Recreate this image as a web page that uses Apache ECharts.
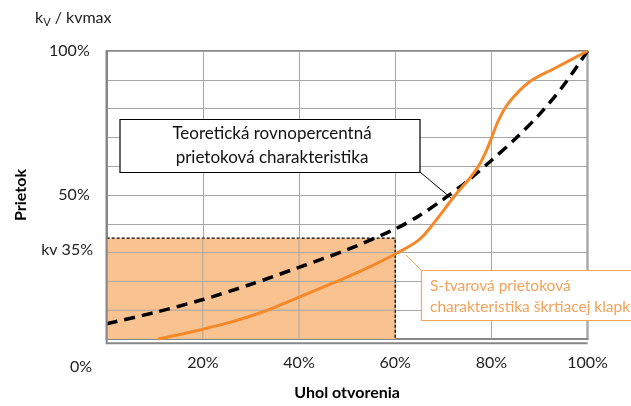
<!DOCTYPE html>
<html><head><meta charset="utf-8">
<script src="https://cdn.jsdelivr.net/npm/echarts@6/dist/echarts.min.js"></script>
<style>html,body{margin:0;padding:0;background:#fff}#c{width:631px;height:406px}</style>
</head><body><div id="c"></div>
<script>
// Data
const openingX = [0,10,20,30,40,50,60,65,70,75,80,85,90,95,100];            // % opening (theoretical)
const theoreticalY = [5.3,9.2,13.7,19,24.9,31,38.2,42.8,48.5,54.8,62,69.5,78,88,100];
const sCurveX = [10.7,15,20,25,30,35,40,45,50,55,60,65,68.4,72.5,75.6,77.5,79,80.2,81.5,83.6,87.7,93.3,100];
const sCurveY = [0,1.5,3.4,5.5,8,11,14.5,18,21.5,25.3,29.5,34.5,41,50,56,60.5,65.5,70.5,76,82,89,94.1,100];
const kvPoint = {x: 60, y: 35};
const xTicks = ['0%','20%','40%','60%','80%','100%'];
const xGrid = [20, 40];          // vertical gridlines crossing the shaded area
const yGrid = [10, 20, 30];      // horizontal gridlines crossing the shaded area
const yTickLabels = {100: '100%', 50: '50%'};
const label1 = ['Teoretická rovnopercentná', 'prietoková charakteristika'];
const label2 = ['S-tvarová prietoková', 'charakteristika škrtiacej klapky'];

const FONT = 'Lato';
const GRIDC = '#a6a6a6';
const chart = echarts.init(document.getElementById('c'));
const gridLeft = 106.7, gridTop = 51, gridRight = 43.5, gridBottom = 62.7;

// gridline segments inside the shaded area, separated by gaps
const gridSegData = [];
xGrid.forEach(x => { gridSegData.push([x, 0], [x, kvPoint.y], ['-', '-']); });
yGrid.forEach(y => { gridSegData.push([0, y], [kvPoint.x, y], ['-', '-']); });

chart.setOption({
  animation: false,
  textStyle: {fontFamily: FONT},
  grid: {left: gridLeft, top: gridTop, right: gridRight, bottom: gridBottom, show: true,
         borderColor: '#878787', borderWidth: 2, backgroundColor: 'transparent'},
  xAxis: {
    type: 'value', min: 0, max: 100, interval: 20,
    name: 'Uhol otvorenia', nameLocation: 'middle', nameGap: 46,
    nameTextStyle: {fontFamily: FONT, fontSize: 16, fontWeight: 'bold', color: '#000'},
    axisLine: {show: true, onZero: false, lineStyle: {color: '#878787', width: 2}},
    axisTick: {show: false},
    splitLine: {show: true, lineStyle: {color: GRIDC, width: 1}},
    axisLabel: {fontFamily: FONT, fontSize: 16, color: '#222', margin: 16,
      formatter: v => (v === 0 ? '' : xTicks[v / 20])}
  },
  yAxis: {
    type: 'value', min: 0, max: 100, interval: 10,
    name: 'Prietok', nameLocation: 'middle', nameGap: 78, nameRotate: 90,
    nameTextStyle: {fontFamily: FONT, fontSize: 16, fontWeight: 'bold', color: '#000'},
    axisLine: {show: true, onZero: false, lineStyle: {color: '#878787', width: 2}},
    axisTick: {show: false},
    splitLine: {show: true, lineStyle: {color: GRIDC, width: 1}},
    axisLabel: {fontFamily: FONT, fontSize: 16, color: '#222', margin: 17,
      formatter: v => yTickLabels[v] || ''}
  },
  series: [
    {
      type: 'line', z: 1, symbol: 'none', silent: true, smooth: false,
      lineStyle: {color: '#000', width: 1.3, type: [3, 2]},
      areaStyle: {color: '#f9c391', opacity: 1},
      data: [[0, kvPoint.y], [kvPoint.x, kvPoint.y], [kvPoint.x, 0]]
    },
    {
      type: 'line', z: 2, symbol: 'none', silent: true, smooth: false, connectNulls: false,
      lineStyle: {color: GRIDC, width: 1},
      data: gridSegData
    },
    {
      type: 'line', z: 6, smooth: 0.3, symbol: 'none',
      lineStyle: {color: '#000', width: 3.5, type: [11, 7]},
      data: openingX.map((x, i) => [x, theoreticalY[i]])
    },
    {
      type: 'line', z: 7, smooth: 0.35, symbol: 'none',
      lineStyle: {color: '#f5892a', width: 3},
      data: sCurveX.map((x, i) => [x, sCurveY[i]])
    }
  ],
  graphic: [
    {type: 'text', left: 35, top: 10, style: {
      text: '{k|k}{s|V}{k| / kvmax}',
      rich: {k: {fontFamily: FONT, fontSize: 16, fill: '#222'},
             s: {fontFamily: FONT, fontSize: 11, fill: '#222', padding: [9, 0, 0, 0]}}}},
    {type: 'text', x: 93, y: 250, style: {text: 'kv 35%', fontFamily: FONT, fontSize: 16,
      fill: '#222', align: 'right', verticalAlign: 'middle'}},
    {type: 'text', x: 81, y: 367, style: {text: '0%', fontFamily: FONT, fontSize: 16,
      fill: '#222', align: 'center', verticalAlign: 'middle'}},
    // axis lines redrawn over the shaded area edge
    {type: 'rect', z: 9, shape: {x: 105.7, y: 51, width: 2, height: 292.3}, style: {fill: '#878787'}},
    {type: 'rect', z: 9, shape: {x: 105.7, y: 342.3, width: 482, height: 2}, style: {fill: '#878787'}},
    // annotation 1
    {type: 'line', z: 10, shape: {x1: 420, y1: 172, x2: 451, y2: 198}, style: {stroke: '#000', lineWidth: 1}},
    {type: 'rect', z: 10, shape: {x: 120, y: 119.5, width: 300, height: 53},
      style: {fill: '#fff', stroke: '#000', lineWidth: 1.2}},
    {type: 'text', z: 11, x: 272, y: 146, style: {text: label1.join('\n'), fontFamily: FONT,
      fontSize: 17, lineHeight: 24, fill: '#111', align: 'center', verticalAlign: 'middle'}},
    // annotation 2
    {type: 'line', z: 10, shape: {x1: 422, y1: 271, x2: 406, y2: 255}, style: {stroke: '#f5a55a', lineWidth: 1}},
    {type: 'rect', z: 10, shape: {x: 421.5, y: 270.5, width: 240, height: 50},
      style: {fill: '#fff', stroke: '#f5a55a', lineWidth: 1.2}},
    {type: 'text', z: 11, x: 430, y: 296, style: {text: label2.join('\n'), fontFamily: FONT,
      fontSize: 15.5, lineHeight: 21, fill: '#f4a25a', align: 'left', verticalAlign: 'middle'}}
  ]
});
</script></body></html>
